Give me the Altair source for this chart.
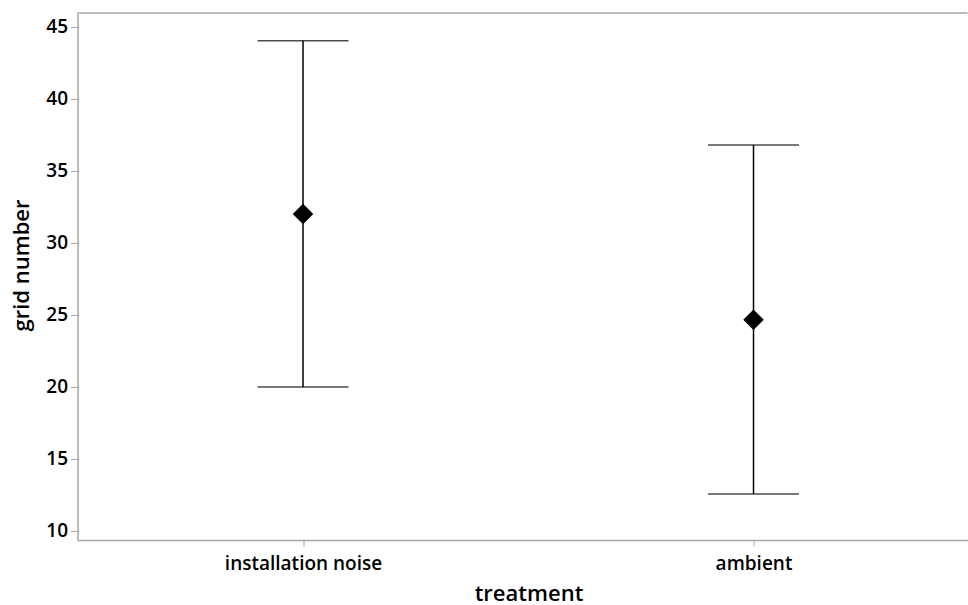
import altair as alt
import pandas as pd

# Treatment groups and their mean with confidence interval bounds
treatments = ["installation noise", "ambient"]
means = [32.0, 24.65]
lower = [19.98, 12.55]
upper = [44.05, 36.8]

df = pd.DataFrame({
    "idx": list(range(len(treatments))),
    "treatment": treatments,
    "mean": means,
    "lower": lower,
    "upper": upper,
})

FONT = "Open Sans"
W, H = 890, 527
GRAY = "#a6a6a6"

label_expr = " : ".join(
    f"datum.value == {i} ? '{t}'" for i, t in enumerate(treatments)
) + " : ''"

x_enc = alt.X(
    "idx:Q",
    scale=alt.Scale(domain=[-0.5006, 1.475], nice=False, zero=False),
    axis=alt.Axis(
        title="treatment",
        values=list(range(len(treatments))),
        labelExpr=label_expr,
        grid=False,
        domainColor=GRAY,
        domainWidth=1.5,
        tickColor=GRAY,
        tickSize=6,
        labelPadding=8,
        labelFontSize=19,
        labelFontWeight=600,
        labelColor="black",
        labelFont=FONT,
        titleFont=FONT,
        titleFontSize=22,
        titleFontWeight=600,
        titleColor="black",
        titleX=451,
        titleY=60,
        titleBaseline="alphabetic",
    ),
)

y_enc = alt.Y(
    "mean:Q",
    scale=alt.Scale(domain=[9.35, 45.97], nice=False, zero=False),
    axis=alt.Axis(
        title="grid number",
        values=[10, 15, 20, 25, 30, 35, 40, 45],
        grid=False,
        domainColor=GRAY,
        domainWidth=1.5,
        tickColor=GRAY,
        tickSize=7,
        labelPadding=3,
        labelFontSize=19,
        labelFontWeight=600,
        labelColor="black",
        labelFont=FONT,
        titleFont=FONT,
        titleFontSize=22,
        titleFontWeight=600,
        titleColor="black",
        titleAngle=-90,
        titleX=-44,
        titleY=252,
        titleBaseline="bottom",
    ),
)

base = alt.Chart(df)

whisker = base.mark_rule(color="black", strokeWidth=1.5).encode(
    x=x_enc, y=alt.Y("lower:Q"), y2="upper:Q"
)
cap_low = base.mark_tick(color="black", orient="horizontal", size=91, thickness=1.5).encode(
    x="idx:Q", y="lower:Q"
)
cap_high = base.mark_tick(color="black", orient="horizontal", size=91, thickness=1.5).encode(
    x="idx:Q", y="upper:Q"
)
point = base.mark_point(shape="diamond", filled=True, color="black", size=420, opacity=1).encode(
    x="idx:Q", y=y_enc
)

# top frame edge of the plot area
frame_top = alt.Chart(pd.DataFrame({"a": [0]})).mark_rule(color=GRAY, strokeWidth=1.5).encode(
    x=alt.value(0), x2=alt.value(W), y=alt.value(0)
)

chart = alt.layer(whisker, cap_low, cap_high, point, frame_top).properties(
    width=W,
    height=H,
    autosize=alt.AutoSizeParams(type="none"),
    padding={"left": 77.5, "top": 13, "right": 0, "bottom": 65},
).configure(background="white", view=alt.ViewConfig(stroke=None))

chart.save("out.html", embed_options={"renderer": "svg", "actions": False})
